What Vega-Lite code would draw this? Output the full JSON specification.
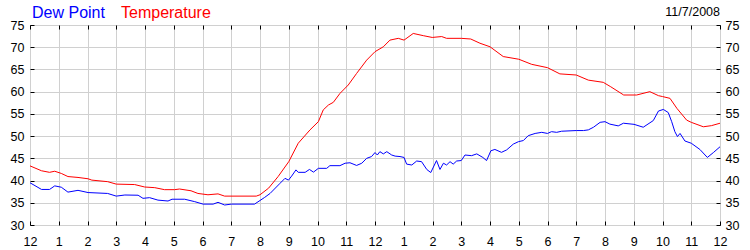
{
  "$schema": "https://vega.github.io/schema/vega-lite/v6.json",
  "width": 690,
  "height": 200,
  "autosize": {"type": "none"},
  "padding": {"left": 30, "top": 25, "right": 30, "bottom": 25},
  "background": "white",
  "title": {"text": "11/7/2008", "anchor": "end", "frame": "group", "fontSize": 12.5, "fontWeight": "normal", "font": "Liberation Sans", "color": "black", "offset": 0, "dy": 13},
  "config": {
    "view": {"stroke": "black", "strokeWidth": 1},
    "font": "Liberation Sans",
    "axis": {"domain": false, "tickColor": "black", "tickSize": -4, "labelFontSize": 12.5, "labelColor": "black", "labelFont": "Liberation Sans", "gridColor": "#d0d0d0", "gridWidth": 1, "labelOverlap": false, "labelFlush": false}
  },
  "data": {"values": [
    {"s":"Temperature","h":0,"v":43.3},{"s":"Temperature","h":0.4,"v":42.2},{"s":"Temperature","h":0.68,"v":41.85},{"s":"Temperature","h":0.86,"v":42.1},{"s":"Temperature","h":1.09,"v":41.6},{"s":"Temperature","h":1.32,"v":40.9},{"s":"Temperature","h":1.67,"v":40.7},{"s":"Temperature","h":2.02,"v":40.4},{"s":"Temperature","h":2.15,"v":40.1},{"s":"Temperature","h":2.7,"v":39.75},{"s":"Temperature","h":3.0,"v":39.2},{"s":"Temperature","h":3.64,"v":39.1},{"s":"Temperature","h":3.99,"v":38.55},{"s":"Temperature","h":4.34,"v":38.4},{"s":"Temperature","h":4.68,"v":37.95},{"s":"Temperature","h":5.03,"v":37.95},{"s":"Temperature","h":5.2,"v":38.1},{"s":"Temperature","h":5.6,"v":37.7},{"s":"Temperature","h":5.84,"v":37.1},{"s":"Temperature","h":6.19,"v":36.8},{"s":"Temperature","h":6.54,"v":37.0},{"s":"Temperature","h":6.77,"v":36.5},{"s":"Temperature","h":7.87,"v":36.5},{"s":"Temperature","h":8.0,"v":36.8},{"s":"Temperature","h":8.3,"v":38.3},{"s":"Temperature","h":8.63,"v":40.9},{"s":"Temperature","h":9.0,"v":44.25},{"s":"Temperature","h":9.33,"v":48.4},{"s":"Temperature","h":9.74,"v":51.4},{"s":"Temperature","h":10.03,"v":53.25},{"s":"Temperature","h":10.2,"v":55.9},{"s":"Temperature","h":10.38,"v":57.0},{"s":"Temperature","h":10.55,"v":57.6},{"s":"Temperature","h":10.78,"v":59.6},{"s":"Temperature","h":11.07,"v":61.5},{"s":"Temperature","h":11.36,"v":64.1},{"s":"Temperature","h":11.71,"v":67.1},{"s":"Temperature","h":12.0,"v":69.0},{"s":"Temperature","h":12.29,"v":70.1},{"s":"Temperature","h":12.52,"v":71.6},{"s":"Temperature","h":12.81,"v":72.0},{"s":"Temperature","h":13.01,"v":71.6},{"s":"Temperature","h":13.33,"v":73.1},{"s":"Temperature","h":13.68,"v":72.6},{"s":"Temperature","h":13.99,"v":72.2},{"s":"Temperature","h":14.32,"v":72.4},{"s":"Temperature","h":14.49,"v":72.0},{"s":"Temperature","h":15.0,"v":72.0},{"s":"Temperature","h":15.33,"v":71.85},{"s":"Temperature","h":15.65,"v":70.9},{"s":"Temperature","h":16.0,"v":70.1},{"s":"Temperature","h":16.46,"v":67.9},{"s":"Temperature","h":17.0,"v":67.3},{"s":"Temperature","h":17.45,"v":66.15},{"s":"Temperature","h":18.0,"v":65.4},{"s":"Temperature","h":18.43,"v":64.0},{"s":"Temperature","h":19.0,"v":63.75},{"s":"Temperature","h":19.42,"v":62.6},{"s":"Temperature","h":19.94,"v":62.1},{"s":"Temperature","h":20.2,"v":61.1},{"s":"Temperature","h":20.65,"v":59.25},{"s":"Temperature","h":21.1,"v":59.25},{"s":"Temperature","h":21.56,"v":60.0},{"s":"Temperature","h":21.86,"v":59.1},{"s":"Temperature","h":22.0,"v":58.9},{"s":"Temperature","h":22.26,"v":58.5},{"s":"Temperature","h":22.5,"v":56.25},{"s":"Temperature","h":22.84,"v":53.6},{"s":"Temperature","h":23.0,"v":53.1},{"s":"Temperature","h":23.42,"v":52.1},{"s":"Temperature","h":23.7,"v":52.35},{"s":"Temperature","h":24.0,"v":52.9},
    {"s":"Dew Point","h":0,"v":39.5},{"s":"Dew Point","h":0.4,"v":38.0},{"s":"Dew Point","h":0.68,"v":38.0},{"s":"Dew Point","h":0.86,"v":38.8},{"s":"Dew Point","h":1.09,"v":38.5},{"s":"Dew Point","h":1.32,"v":37.4},{"s":"Dew Point","h":1.67,"v":37.8},{"s":"Dew Point","h":2.02,"v":37.3},{"s":"Dew Point","h":2.7,"v":37.1},{"s":"Dew Point","h":3.0,"v":36.5},{"s":"Dew Point","h":3.3,"v":36.75},{"s":"Dew Point","h":3.76,"v":36.7},{"s":"Dew Point","h":3.93,"v":36.0},{"s":"Dew Point","h":4.16,"v":36.15},{"s":"Dew Point","h":4.45,"v":35.6},{"s":"Dew Point","h":4.8,"v":35.4},{"s":"Dew Point","h":4.94,"v":35.8},{"s":"Dew Point","h":5.38,"v":35.8},{"s":"Dew Point","h":5.73,"v":35.25},{"s":"Dew Point","h":6.02,"v":34.7},{"s":"Dew Point","h":6.37,"v":34.7},{"s":"Dew Point","h":6.54,"v":35.1},{"s":"Dew Point","h":6.77,"v":34.5},{"s":"Dew Point","h":7.0,"v":34.7},{"s":"Dew Point","h":7.81,"v":34.7},{"s":"Dew Point","h":8.16,"v":36.2},{"s":"Dew Point","h":8.35,"v":37.1},{"s":"Dew Point","h":8.7,"v":39.4},{"s":"Dew Point","h":8.87,"v":40.5},{"s":"Dew Point","h":8.99,"v":40.1},{"s":"Dew Point","h":9.1,"v":41.0},{"s":"Dew Point","h":9.25,"v":42.4},{"s":"Dew Point","h":9.33,"v":41.85},{"s":"Dew Point","h":9.57,"v":41.85},{"s":"Dew Point","h":9.72,"v":42.5},{"s":"Dew Point","h":9.86,"v":41.9},{"s":"Dew Point","h":10.03,"v":42.75},{"s":"Dew Point","h":10.32,"v":42.75},{"s":"Dew Point","h":10.43,"v":43.35},{"s":"Dew Point","h":10.78,"v":43.35},{"s":"Dew Point","h":10.96,"v":43.9},{"s":"Dew Point","h":11.13,"v":44.0},{"s":"Dew Point","h":11.36,"v":43.4},{"s":"Dew Point","h":11.54,"v":43.9},{"s":"Dew Point","h":11.71,"v":45.0},{"s":"Dew Point","h":11.88,"v":45.4},{"s":"Dew Point","h":12.0,"v":46.3},{"s":"Dew Point","h":12.08,"v":45.75},{"s":"Dew Point","h":12.17,"v":46.5},{"s":"Dew Point","h":12.29,"v":46.0},{"s":"Dew Point","h":12.41,"v":46.5},{"s":"Dew Point","h":12.58,"v":45.75},{"s":"Dew Point","h":12.7,"v":45.5},{"s":"Dew Point","h":12.87,"v":45.4},{"s":"Dew Point","h":13.01,"v":45.2},{"s":"Dew Point","h":13.1,"v":43.7},{"s":"Dew Point","h":13.28,"v":43.5},{"s":"Dew Point","h":13.45,"v":44.4},{"s":"Dew Point","h":13.62,"v":44.25},{"s":"Dew Point","h":13.8,"v":42.5},{"s":"Dew Point","h":13.94,"v":41.8},{"s":"Dew Point","h":14.14,"v":44.5},{"s":"Dew Point","h":14.26,"v":42.5},{"s":"Dew Point","h":14.38,"v":43.9},{"s":"Dew Point","h":14.49,"v":43.5},{"s":"Dew Point","h":14.61,"v":44.25},{"s":"Dew Point","h":14.72,"v":43.7},{"s":"Dew Point","h":14.84,"v":44.4},{"s":"Dew Point","h":15.0,"v":44.5},{"s":"Dew Point","h":15.13,"v":45.75},{"s":"Dew Point","h":15.36,"v":45.6},{"s":"Dew Point","h":15.54,"v":46.0},{"s":"Dew Point","h":15.75,"v":45.2},{"s":"Dew Point","h":15.88,"v":44.5},{"s":"Dew Point","h":16.03,"v":46.7},{"s":"Dew Point","h":16.17,"v":47.0},{"s":"Dew Point","h":16.4,"v":46.35},{"s":"Dew Point","h":16.58,"v":46.9},{"s":"Dew Point","h":16.81,"v":48.2},{"s":"Dew Point","h":16.99,"v":48.75},{"s":"Dew Point","h":17.16,"v":49.0},{"s":"Dew Point","h":17.33,"v":50.1},{"s":"Dew Point","h":17.57,"v":50.6},{"s":"Dew Point","h":17.8,"v":50.85},{"s":"Dew Point","h":18.0,"v":50.6},{"s":"Dew Point","h":18.14,"v":51.0},{"s":"Dew Point","h":18.32,"v":50.85},{"s":"Dew Point","h":18.49,"v":51.1},{"s":"Dew Point","h":19.0,"v":51.25},{"s":"Dew Point","h":19.25,"v":51.25},{"s":"Dew Point","h":19.42,"v":51.4},{"s":"Dew Point","h":19.6,"v":52.0},{"s":"Dew Point","h":19.83,"v":53.1},{"s":"Dew Point","h":20.0,"v":53.25},{"s":"Dew Point","h":20.17,"v":52.7},{"s":"Dew Point","h":20.46,"v":52.3},{"s":"Dew Point","h":20.64,"v":52.9},{"s":"Dew Point","h":21.01,"v":52.65},{"s":"Dew Point","h":21.33,"v":52.0},{"s":"Dew Point","h":21.68,"v":53.5},{"s":"Dew Point","h":21.86,"v":55.65},{"s":"Dew Point","h":22.03,"v":56.0},{"s":"Dew Point","h":22.2,"v":55.3},{"s":"Dew Point","h":22.32,"v":53.25},{"s":"Dew Point","h":22.43,"v":51.0},{"s":"Dew Point","h":22.52,"v":49.9},{"s":"Dew Point","h":22.61,"v":50.6},{"s":"Dew Point","h":22.78,"v":48.9},{"s":"Dew Point","h":23.0,"v":48.4},{"s":"Dew Point","h":23.3,"v":47.0},{"s":"Dew Point","h":23.56,"v":45.2},{"s":"Dew Point","h":23.77,"v":46.3},{"s":"Dew Point","h":24.0,"v":47.6}
  ]},
  "layer": [
    {
      "transform": [{"filter": "datum.s == 'Dew Point'"}],
      "mark": {"type": "line", "strokeWidth": 1},
      "encoding": {
        "x": {"field": "h", "type": "quantitative", "scale": {"domain": [0, 24], "nice": false},
              "axis": {"orient": "bottom", "values": [0,1,2,3,4,5,6,7,8,9,10,11,12,13,14,15,16,17,18,19,20,21,22,23,24], "grid": true, "title": null, "labelPadding": 14,
                       "labelExpr": "datum.value % 12 == 0 ? '12' : '' + (datum.value % 12)"}},
        "y": {"field": "v", "type": "quantitative", "scale": {"domain": [30, 75], "nice": false, "zero": false},
              "axis": {"orient": "left", "values": [30,35,40,45,50,55,60,65,70,75], "grid": true, "title": null, "labelPadding": 10}},
        "color": {"field": "s", "type": "nominal", "scale": {"domain": ["Dew Point", "Temperature"], "range": ["#0000ff", "#ff0000"]},
                  "legend": {"orient": "none", "legendX": -14, "legendY": -20, "padding": 0, "direction": "horizontal", "title": null, "symbolSize": 0, "symbolStrokeWidth": 0, "symbolOpacity": 0, "labelFontSize": 16, "labelFont": "Liberation Sans", "labelOffset": 0, "columnPadding": -4,
                             "labelColor": {"expr": "datum.value == 'Dew Point' ? '#0000ff' : '#ff0000'"}}}
      }
    },
    {
      "transform": [{"filter": "datum.s == 'Temperature'"}],
      "mark": {"type": "line", "strokeWidth": 1},
      "encoding": {
        "x": {"field": "h", "type": "quantitative",
              "axis": {"orient": "top", "values": [0,1,2,3,4,5,6,7,8,9,10,11,12,13,14,15,16,17,18,19,20,21,22,23,24], "grid": false, "labels": false, "title": null}},
        "y": {"field": "v", "type": "quantitative",
              "axis": {"orient": "right", "values": [30,35,40,45,50,55,60,65,70,75], "grid": false, "title": null, "labelPadding": 9}},
        "color": {"field": "s", "type": "nominal"}
      }
    }
  ],
  "resolve": {"axis": {"x": "independent", "y": "independent"}}
}
